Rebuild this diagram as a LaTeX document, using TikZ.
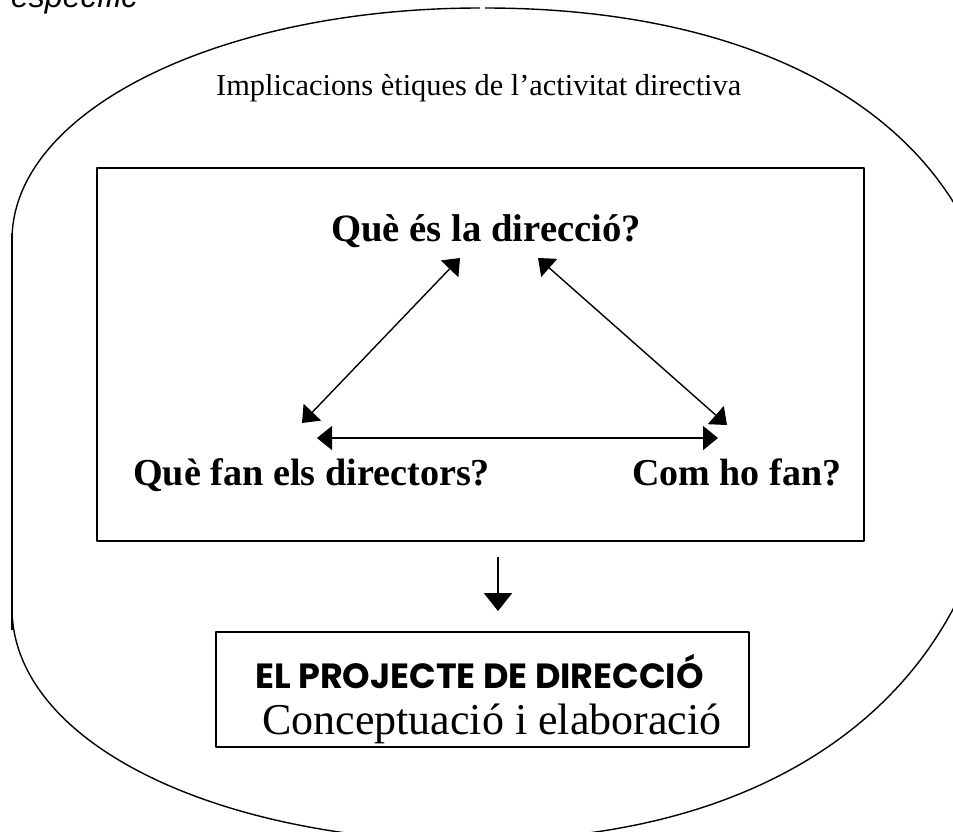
\documentclass[tikz,border=0pt]{standalone}
\usepackage{fontspec}
\setmainfont{Liberation Serif}
\newfontfamily\gothic{Poppins}
\newfontfamily\arialfont{Liberation Sans}
\usetikzlibrary{arrows.meta}
\begin{document}
\begin{tikzpicture}[x=1pt,y=-1pt,line join=round,
  outline/.style={draw,line width=1.4pt},
  frame/.style={draw,line width=2pt},
  txt/.style={inner sep=0pt,anchor=base west},
  dbl/.style={{Triangle[length=15pt,width=24pt]}-{Triangle[length=15pt,width=24pt]},line width=1.4pt},
  down/.style={-{Triangle[length=18pt,width=28pt]},line width=2.4pt}]
\useasboundingbox (0,0) rectangle (953,831);
% outer outline
\draw[outline] (12,240) .. controls (12,109.6) and (221.5,8) .. (480,8);
\draw[outline] (485,8) .. controls (790,8) and (1002,140) .. (1002,380)
  -- (1002,400) .. controls (1002,680) and (790,840) .. (480,840);
\draw[outline] (12,608) .. controls (12,742) and (215,842) .. (480,842);
\draw[line width=2pt] (12,233) -- (12,630);
% partial text top left
\node[txt] (spec) at (11,7) {\arialfont\itshape\fontsize{32}{36}\selectfont específic};
% title
\node[txt] (title) at (216,95) {\fontsize{30.4}{34}\selectfont Implicacions ètiques de l’activitat directiva};
% inner frame
\node[frame,minimum width=767pt,minimum height=373pt,inner sep=0pt,anchor=north west] (box) at (96,167) {};
\node[txt] (q1) at (331,241) {\bfseries\fontsize{38.7}{42}\selectfont Què és la direcció?};
\node[txt] (q2) at (133,485) {\bfseries\fontsize{38.2}{42}\selectfont Què fan els directors?};
\node[txt] (q3) at (632,485) {\bfseries\fontsize{38}{42}\selectfont Com ho fan?};
\coordinate (a1) at (460,258);
\coordinate (a2) at (302,423);
\coordinate (b1) at (538,258);
\coordinate (b2) at (727,425);
\coordinate (c1) at (317,438);
\coordinate (c2) at (718,438);
\draw[dbl] (a1) -- (a2);
\draw[dbl] (b1) -- (b2);
\draw[dbl] (c1) -- (c2);
% down arrow
\coordinate (d1) at (498,557);
\coordinate (d2) at (498,611);
\draw[down] (d1) -- (d2);
% final box
\node[frame,minimum width=533pt,minimum height=115pt,inner sep=0pt,anchor=north west] (proj) at (215,631) {};
\node[txt] (p1) at (255,688) {\gothic\bfseries\fontsize{35}{38}\selectfont EL PROJECTE DE DIRECCIÓ};
\node[txt] (p2) at (262,734) {\fontsize{44}{48}\selectfont Conceptuació i elaboració};
\end{tikzpicture}
\end{document}
